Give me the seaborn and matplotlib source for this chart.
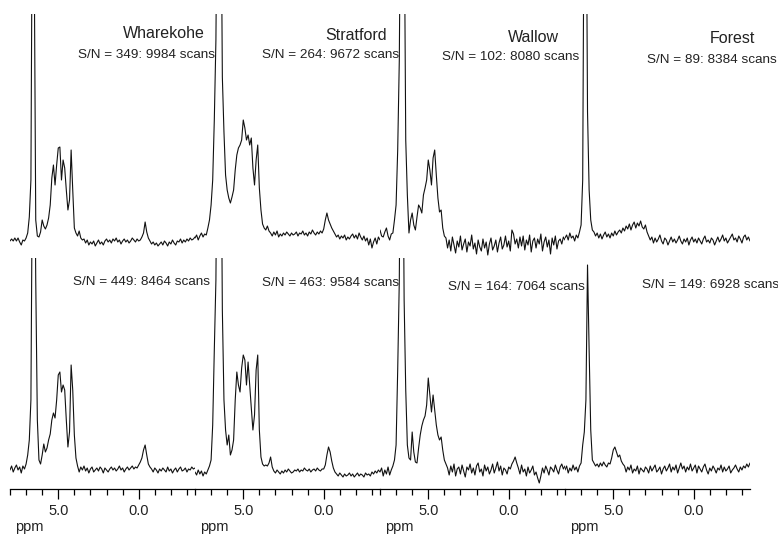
import numpy as np
import seaborn as sns
import matplotlib.pyplot as plt

# chemical shift sampling positions (ppm), 8.0 down to -3.5
ppm = np.round(np.arange(80, -36, -1) / 10, 1)

sites = ['Wharekohe', 'Stratford', 'Wallow', 'Forest']
sn_top = [349, 264, 102, 89]
scans_top = [9984, 9672, 8080, 8384]
sn_bottom = [449, 463, 164, 149]
scans_bottom = [8464, 9584, 7064, 6928]

# intensities (baseline ~0, tall peaks run off the top)
wharekohe_top = [
    1, 3, 1, 4, 1, 4, 0, -3, 2, 1, 4,
    9, 25, 62, 400, 300,
    22, 6, 5, 10, 22, 16, 13, 17, 24, 37, 64, 77, 57, 77, 94, 95, 62, 82, 74, 52,
    32, 42, 92, 52, 14, 9, 6, 11, 4, 2,
    3, -1, 2, -3, 0, -2, 1, -4, -1, 2, -2, 0, -3, 1, 3, 0, 2, -1, 3, 1,
    4, 0, 2, -2, 1, 3, 0, 2, -1, 1, 4, 2, 0, 3, 1, 2, 5,
    9, 20, 10, 4,
    1, -2, 0, -3, -1, -4, -2, 0, -3, 1, -1, -4, 0, -2, 2, -1, -3, 1, 0, 3,
    -1, 2, 0, 3, 1, 4, 2, 3, 5,
]
stratford_top = [
    4, 7, 2, 6, 9, 5, 8, 7, 14, 22, 37, 62, 122, 202, 400, 420, 400, 165, 110, 67,
    52, 44, 39, 45, 52, 72, 87, 94, 97, 102, 122, 114, 102, 107, 97, 104, 74, 57, 82, 97,
    54, 32, 18, 14, 12, 16, 11,
    9, 6, 10, 7, 11, 5, 8, 6, 9, 7, 10, 8, 6, 9, 7, 8, 10, 6, 9, 8,
    11, 7, 9, 6, 10, 8, 12, 9, 7, 10, 8, 11, 9, 13,
    22, 29, 22, 18, 14, 11,
    8, 5, 7, 3, 6, 4, 7, 2, 5, 3, 6, 8, 4, 7, 3, 9, 5, 2, 6, 1,
    4, -3, 3, -6, 0, 4, -2, 5, 2,
]
wallow_top = [
    12, 6, 5, 10, 14, 6, 2, 8, 9, 22, 37, 92, 182, 400, 420, 350, 102, 47, 9, 22,
    29, 17, 12, 25, 37, 34, 29, 47, 54, 62, 82, 72, 57, 84, 92, 67, 44, 30, 32, 14, 6,
    4, -6, 2, -9, 5, -3, -11, 1, -5, 6, -8, -2, 3, -10, 0, -4, 7, -7, -1, -12, 2, -5,
    -9, 3, -6, 0, -13, -2, 4, -8, -4, 2, -10, -1, 5, -7, -3, 6, -5, 1, -9, 12, 8, -2, 3, -6, 5,
    -4, 6, -8, 2, -3, 7, -10, 1, 4, -6, 3, -2, 8, -9, 0, 5, -5, 2, -12, 4, -3, 6, -7, 1,
    3, -2, 5, 2,
]
forest_top = [
    4, 7, 2, 9, 4, 6, 1, 7, 4, 10, 17, 62, 400, 420, 130, 52, 22, 12, 10,
    6, 9, 4, 8, 3, 7, 10, 5, 8, 4, 9, 6, 11, 7, 10,
    12, 9, 14, 11, 16, 13, 18, 12, 17, 20, 14, 19, 16, 21, 15, 13, 17, 10,
    6, 2, 5, -1, 4, 0, 3, 7, 1, -2, 4, 2, -3, 1, 5, 0, 3, -1, 2, 6,
    1, -2, 3, 0, 4, -3, 2, 5, 0, 3, -1, 4, 1, -2, 3, 6, 0, 2, -1, 4,
    2, -3, 1, 5, 0, 3, 7, 1, 4, -1, 2, 5, 8, 2, 4, 0, 6, 3, -1, 5,
    7, 2, 5, 1,
]
wharekohe_bottom = [
    0, 4, -2, 2, 5, 0, 3, -3, 4, 1, 6, 15, 30, 70, 330, 400, 190, 50, 10, 6,
    15, 26, 18, 22, 30, 36, 50, 57, 52, 70, 95, 98, 78, 85, 80, 50, 23, 38, 105, 80,
    35, 12, 4,
    -2, 3, 0, 4, -1, 2, -3, 1, 3, -2, 0, 2, -1, 3, 1, -3, 2, 0, -2, 1,
    3, 0, 2, -1, 1, 4, 0, 2, -2, 1, 3, 0, 2, 4, 1, 3, 2, 5,
    8, 12, 20, 25, 15, 6, 3,
    1, -2, 2, 0, -3, 1, -1, 2, 0, -2, 3, -1, 1, -3, 0, 2, -2, 1, 3, -1,
    0, 2, -2, 1, 0, 3, 1, 2,
]
stratford_bottom = [
    -2, -5, 0, -4, -1, -6, -2, -4, 0, 4, 10, 45, 120, 190, 400, 420, 400, 160, 70, 40,
    25, 35, 15, 20, 30, 70, 98, 85, 78, 102, 115, 110, 85, 108, 85, 62, 40, 55, 100, 115,
    40, 13, 6, 4, 5, 4, 7, 13, 3,
    -1, -3, 0, -2, -4, -1, -3, 0, -2, 1, -1, -3, -2, 0, -1, 1, -2, 0, -1, 2,
    0, -1, 1, -2, 0, 1, -1, 2, 0, -1, 1,
    1, 5, 15, 23, 18, 9, 2, -2,
    -4, -6, -3, -5, -7, -4, -6, -5, -3, -6, -4, -7, -5, -3, -6, -4, -5, -7, -3, -5,
    -4, -6, -2, -4, -1, -3, 0, -2,
]
wallow_bottom = [
    -2, 2, -6, 0, -4, 3, -5, 0, 4, 10, 25, 100, 190, 420, 400, 170, 80, 25, 12, 10,
    38, 18, 8, 7, 22, 35, 44, 50, 54, 65, 92, 75, 58, 75, 60, 45, 35, 30, 33, 20,
    10, 6,
    2, -5, 4, -2, 6, -6, 1, 3, -4, 5, -1, -7, 3, 0, 6, -3, 2, -5, 4, 7,
    -2, 1, -6, 5, -1, 3, -4, 0, 6, -3, 2, 8, -1, 4, -5, 2, 0, -4, 3, 1,
    6, 9,
    13, 7,
    2, -4, 5, -2, 1, -6, 3, -3, 0, 4, -5, -2, -8, -13,
    -6, 2, -3, 4, 0, -5, 3, 1, -2, 5, 0, -4, 3, 6, 1, 4,
]
forest_bottom = [
    0, 4, -3, 2, -1, 5, 0, 3, -2, 4, 7, 25, 38, 70, 205, 120, 40, 10, 7, 4,
    6, 3, 7, 4, 8, 5, 3, 7, 6, 12, 20, 23, 18, 13, 15, 9, 6,
    4, -2, 3, 0, 5, -3, 1, -1, 4, -4, 2, 0, -2, 3, 1, -3, 4, -1, 2, 5,
    -2, 0, 3, -4, 1, 4, -1, 2, 6, -2, 3, 0, 5, -3, 2, 7, 1, 4, -2, 3,
    0, 6, -1, 2, 5, -3, 4, 1, -2, 3, 6, 0, -4, 2, -1, 4, 1, -3, 2, 0,
    5, -2, 3, -1, 1, 4, -3, 0, 2, 5, 1, -2, 3, 0, 4, 2, 6, 3, 7,
]

top_spectra = [wharekohe_top, stratford_top, wallow_top, forest_top]
bottom_spectra = [wharekohe_bottom, stratford_bottom, wallow_bottom, forest_bottom]

sns.set_style('white')
plt.rcParams['font.family'] = ['Liberation Sans', 'DejaVu Sans']

W, H = 778, 536
fig = plt.figure(figsize=(W / 100, H / 100), dpi=100)


def px_box(x0, y0, w, h):
    return [x0 / W, 1 - (y0 + h) / H, w / W, h / H]


def fig_xy(x, y):
    return x / W, 1 - y / H


# text placement in pixels (left, baseline)
site_pos = [(123, 38), (325, 40), (508, 41.5), (710, 43)]
sn_top_pos = [(78, 58), (262, 58), (442, 60), (647, 63)]
sn_bottom_pos = [(73, 285), (262, 286), (448, 290), (642, 288)]

for k in range(4):
    left = 10 + 185 * k
    ax_t = fig.add_axes(px_box(left, 14, 185, 242))
    ax_b = fig.add_axes(px_box(left, 258, 185, 231))
    for ax, vals, lim in [(ax_t, top_spectra[k], (-14, 228)),
                          (ax_b, bottom_spectra[k], (-19, 212))]:
        sns.lineplot(x=ppm, y=vals, ax=ax, color='#111111', linewidth=0.8,
                     sort=False, estimator=None)
        ax.set_xlim(8.0, -3.5)
        ax.set_ylim(*lim)
        ax.set_xlabel('')
        ax.set_ylabel('')
        ax.set_yticks([])
        ax.patch.set_alpha(0)
        for s in ['top', 'left', 'right']:
            ax.spines[s].set_visible(False)
    ax_t.spines['bottom'].set_visible(False)
    ax_t.set_xticks([])

    ax_b.set_xticks([5, 0])
    ax_b.set_xticklabels(['5.0', '0.0'])
    ax_b.set_xticks([8, 7, 6, 4, 3, 2, 1, -1, -2, -3], minor=True)
    ax_b.tick_params(axis='x', which='major', bottom=True, length=7, width=0.9,
                     color='black', direction='out', pad=3.5, labelsize=10.5,
                     labelcolor='#222222')
    ax_b.tick_params(axis='x', which='minor', bottom=True, length=4.5, width=0.9,
                     color='black', direction='out')
    ax_b.spines['bottom'].set_color('black')
    ax_b.spines['bottom'].set_linewidth(0.9)

    fig.text(*fig_xy(left + 5, 531), 'ppm', fontsize=10.5, color='#222222',
             ha='left', va='baseline')
    fig.text(*fig_xy(*site_pos[k]), sites[k], fontsize=11.5, color='#222222',
             ha='left', va='baseline')
    fig.text(*fig_xy(*sn_top_pos[k]), f'S/N = {sn_top[k]}: {scans_top[k]} scans',
             fontsize=9.7, color='#222222', ha='left', va='baseline')
    fig.text(*fig_xy(*sn_bottom_pos[k]), f'S/N = {sn_bottom[k]}: {scans_bottom[k]} scans',
             fontsize=9.7, color='#222222', ha='left', va='baseline')

fig.savefig('out.png', dpi=100)
